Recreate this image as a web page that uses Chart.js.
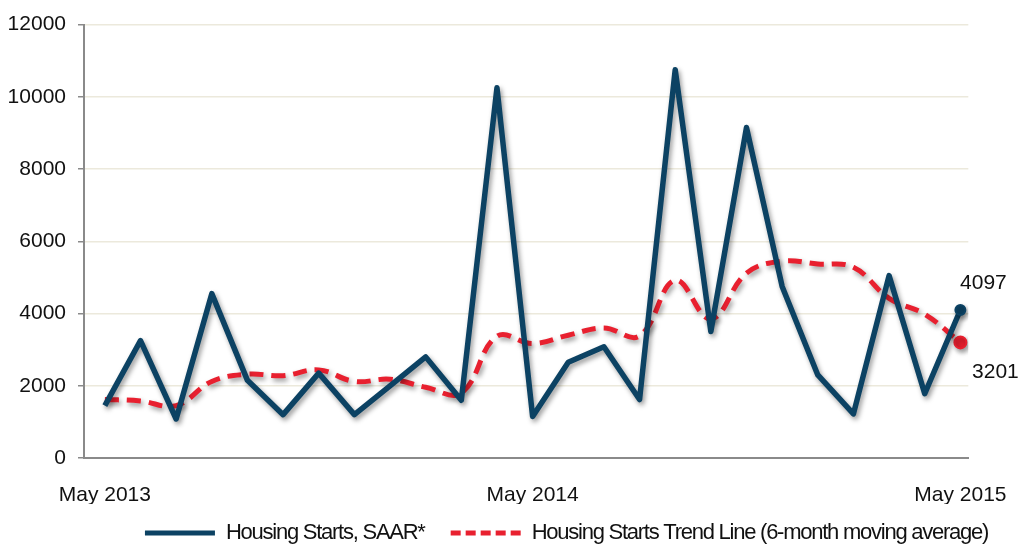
<!DOCTYPE html>
<html>
<head>
<meta charset="utf-8">
<script src="https://cdn.jsdelivr.net/npm/chart.js@4"></script>
<style>
  html, body { margin: 0; padding: 0; background: #fff; }
  #wrap { width: 1032px; height: 548px; }
  canvas { display: block; }
</style>
</head>
<body>
<div id="wrap"><canvas id="startsChart" width="1032" height="548"></canvas></div>
<script>
// Monthly categories, May 2013 - May 2015
const months = [
    'May 2013', 'Jun 2013', 'Jul 2013', 'Aug 2013', 'Sep 2013', 'Oct 2013', 'Nov 2013',
    'Dec 2013', 'Jan 2014', 'Feb 2014', 'Mar 2014', 'Apr 2014', 'May 2014', 'Jun 2014',
    'Jul 2014', 'Aug 2014', 'Sep 2014', 'Oct 2014', 'Nov 2014', 'Dec 2014', 'Jan 2015',
    'Feb 2015', 'Mar 2015', 'Apr 2015', 'May 2015'
];

// Housing starts, SAAR*
const housingStarts = [
    1450, 3250, 1080, 4550, 2150, 1200, 2350, 1200, 2000, 2800, 1600, 10250, 1150,
    2650, 3080, 1620, 10750, 3500, 9150, 4750, 2300, 1220, 5050, 1780, 4097
];

// 6-month moving average trend line
const trendLine = [
    1620, 1580, 1450, 2120, 2320, 2280, 2440, 2120, 2180, 1960, 1800, 3370, 3170,
    3400, 3600, 3380, 4920, 3850, 5120, 5450, 5370, 5280, 4420, 3980, 3201
];

const yTicks = [0, 2000, 4000, 6000, 8000, 10000, 12000];
const xTickIdx = [0, 12, 24];   // May 2013, May 2014, May 2015

const lastIdx = months.length - 1;
const toPoints = arr => arr.map((v, i) => ({ x: i, y: v }));

// drop shadow under the lines
const lineShadow = {
    id: 'lineShadow',
    beforeDatasetsDraw(chart) {
        const ctx = chart.ctx;
        ctx.save();
        ctx.shadowColor = 'rgba(0, 0, 0, 0.4)';
        ctx.shadowBlur = 5;
        ctx.shadowOffsetX = 2;
        ctx.shadowOffsetY = 3;
    },
    afterDatasetsDraw(chart) {
        chart.ctx.restore();
    }
};

// value labels on the last points
const endLabels = {
    id: 'endLabels',
    afterDraw(chart) {
        const ctx = chart.ctx;
        const values = [housingStarts, trendLine];
        const offsets = [[23, -27], [35, 30]];
        ctx.save();
        ctx.font = '21px "Liberation Sans", Arial, sans-serif';
        ctx.fillStyle = '#111';
        ctx.textAlign = 'center';
        ctx.textBaseline = 'middle';
        values.forEach((arr, i) => {
            const pt = chart.getDatasetMeta(i).data[lastIdx];
            ctx.fillText(String(arr[lastIdx]), pt.x + offsets[i][0], pt.y + offsets[i][1]);
        });
        ctx.restore();
    }
};

// squeeze the legend text like the original and nudge it into place
const tightLegend = {
    id: 'tightLegend',
    beforeUpdate(chart) {
        const lg = chart.legend;
        if (!lg || lg._tight) return;
        lg._tight = true;
        const origFit = lg.fit;
        const origDraw = lg.draw;
        lg.fit = function () {
            this.ctx.save();
            this.ctx.letterSpacing = '-1.25px';
            origFit.apply(this, arguments);
            this.ctx.restore();
            this.height = 44;
        };
        lg.draw = function () {
            const ctx = this.ctx;
            const top = this.top;
            this.top = top - 8;
            ctx.save();
            ctx.letterSpacing = '-1.25px';
            ctx.translate(79, 0);
            origDraw.apply(this, arguments);
            ctx.restore();
            this.top = top;
        };
    }
};

new Chart(document.getElementById('startsChart'), {
    type: 'line',
    data: {
        datasets: [{
            label: 'Housing Starts, SAAR*',
            data: toPoints(housingStarts),
            borderColor: '#0c4263',
            backgroundColor: '#0c4263',
            borderWidth: 5.5,
            borderJoinStyle: 'round',
            tension: 0,
            pointRadius: c => c.dataIndex === lastIdx ? 5 : 0,
            pointBorderWidth: 2,
            pointHoverRadius: 0
        }, {
            label: 'Housing Starts Trend Line (6-month moving average)',
            data: toPoints(trendLine),
            borderColor: '#e8202f',
            backgroundColor: '#e8202f',
            borderWidth: 5,
            borderDash: [14, 8],
            tension: 0.4,
            pointRadius: c => c.dataIndex === lastIdx ? 6 : 0,
            pointBorderWidth: 2,
            pointHoverRadius: 0
        }]
    },
    options: {
        responsive: false,
        animation: false,
        layout: {
            padding: { top: 15, right: 57, left: 0, bottom: 0 }
        },
        scales: {
            x: {
                type: 'linear',
                min: -0.585,
                max: 24.223,
                grid: { display: false, drawTicks: false },
                border: { display: true, color: '#8a8a8a', width: 2 },
                afterBuildTicks: scale => {
                    scale.ticks = xTickIdx.map(v => ({ value: v }));
                },
                ticks: {
                    autoSkip: false,
                    maxRotation: 0,
                    padding: 25,
                    color: '#111',
                    font: { family: '"Liberation Sans", Arial, sans-serif', size: 21 },
                    callback: v => months[v]
                },
                afterFit: scale => { scale.height = 46; }
            },
            y: {
                min: 0,
                max: 12000,
                grid: {
                    color: '#ece9dc',
                    lineWidth: 1.5,
                    tickColor: '#8a8a8a',
                    tickLength: 6
                },
                border: { display: true, color: '#8a8a8a', width: 2 },
                afterBuildTicks: scale => {
                    scale.ticks = yTicks.map(v => ({ value: v }));
                },
                ticks: {
                    padding: 12,
                    color: '#111',
                    font: { family: '"Liberation Sans", Arial, sans-serif', size: 21 },
                    callback: v => String(v)
                },
                afterFit: scale => { scale.width = 84; }
            }
        },
        plugins: {
            legend: {
                position: 'bottom',
                labels: {
                    usePointStyle: true,
                    pointStyle: 'line',
                    pointStyleWidth: 70,
                    padding: 26,
                    color: '#111',
                    font: { family: '"Liberation Sans", Arial, sans-serif', size: 22 },
                    generateLabels: chart => {
                        const dashes = [[], [10, 5]];
                        return Chart.defaults.plugins.legend.labels.generateLabels(chart)
                            .map((item, i) => Object.assign(item, {
                                lineWidth: 5,
                                lineDash: dashes[i],
                                lineCap: 'butt'
                            }));
                    }
                }
            },
            tooltip: { enabled: false }
        }
    },
    plugins: [lineShadow, endLabels, tightLegend]
});
</script>
</body>
</html>
